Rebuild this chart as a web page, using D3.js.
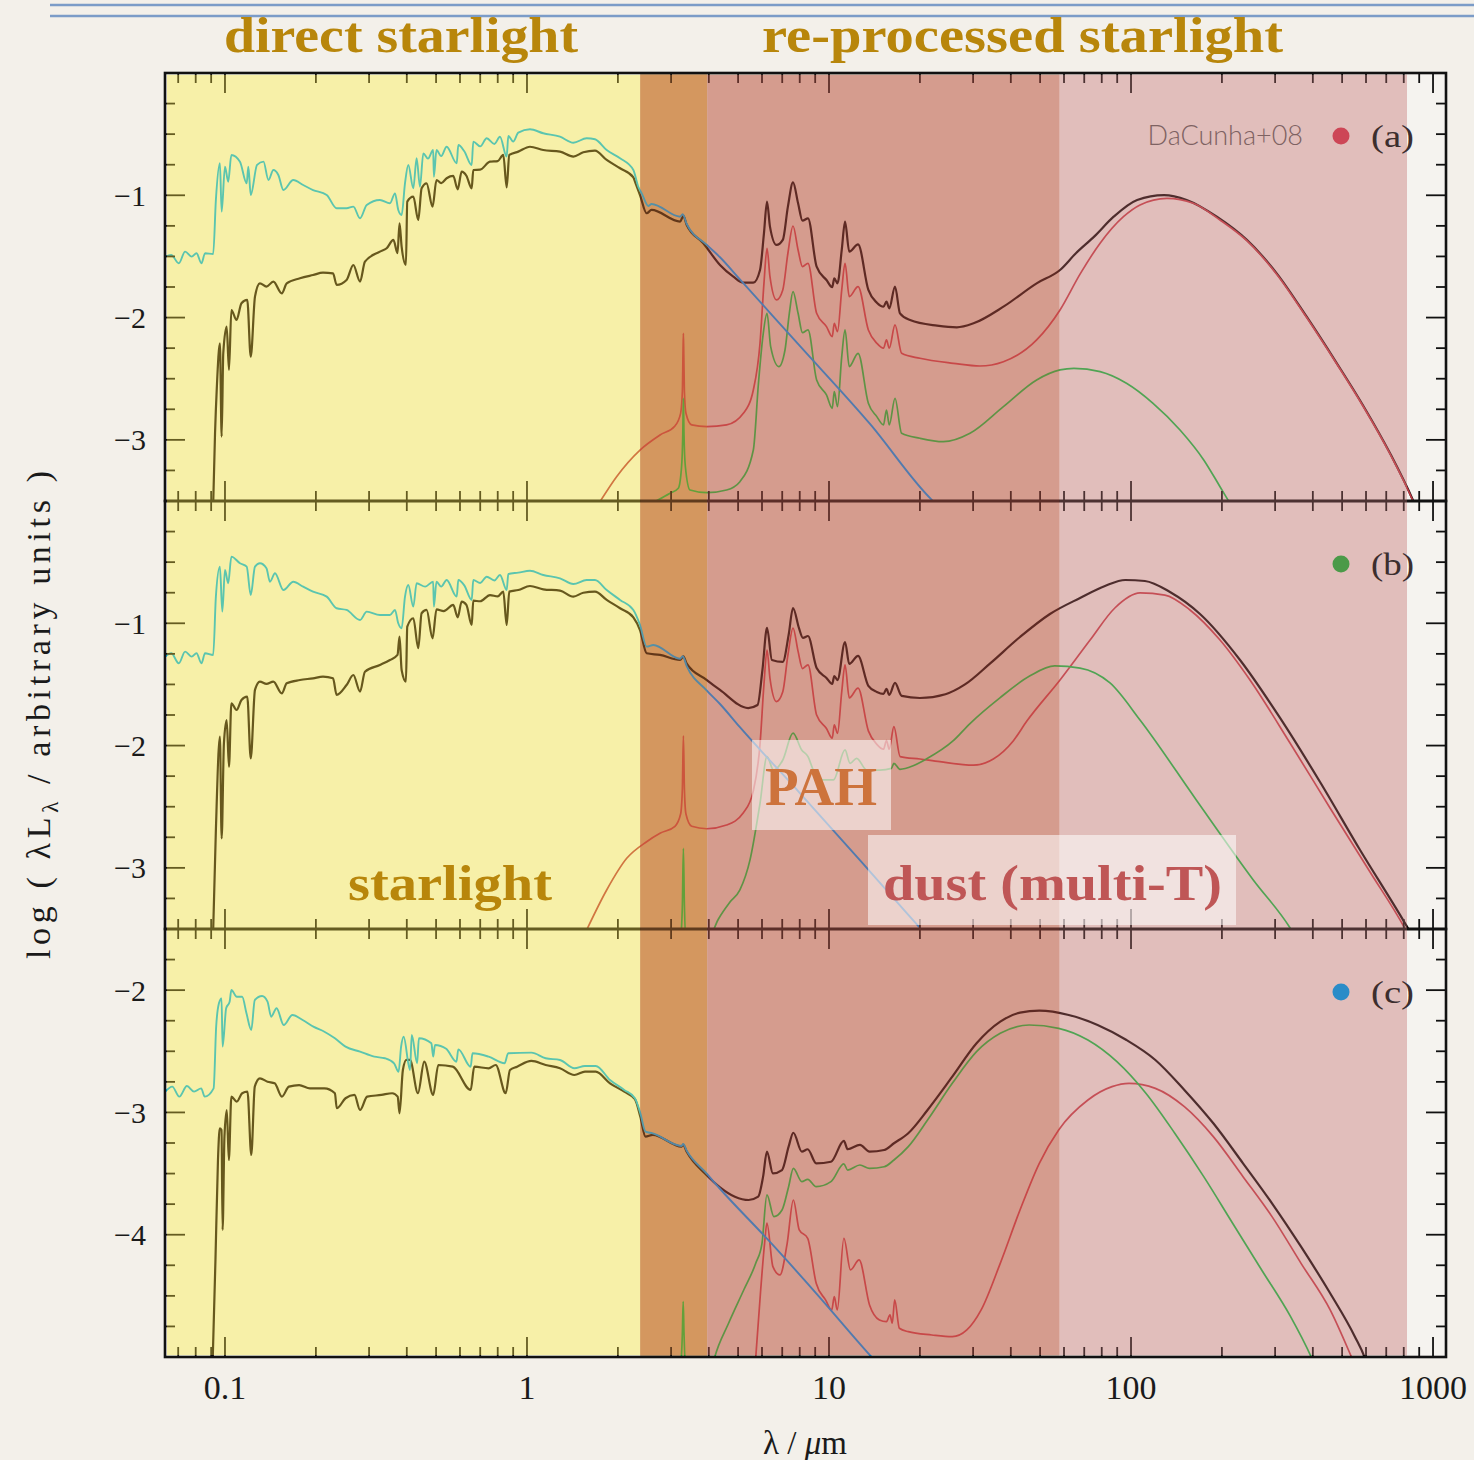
<!DOCTYPE html>
<html>
<head>
<meta charset="utf-8">
<script src="https://cdn.jsdelivr.net/npm/d3@7"></script>
<style>
  html, body { margin: 0; padding: 0; background: #f3f0ea; }
  svg { display: block; }
</style>
</head>
<body>
<svg id="chart" width="1474" height="1460"></svg>
<script>
// ---------------------------------------------------------------
// Spectral energy distributions, [wavelength (µm), log(λLλ)]
// stars*  : unattenuated stellar emission
// total*  : total emission (attenuated stars + dust)
// ism*    : dust emission of the ambient ISM
// clouds* : dust emission of stellar birth clouds
// ---------------------------------------------------------------

const xDomain = [0.0633, 1104];
const xTickValues = [0.1, 1, 10, 100, 1000];
const xTickLabels = ["0.1", "1", "10", "100", "1000"];

const yDomainA = [-3.5, 0];
const yDomainB = [-3.5, 0];
const yDomainC = [-5, -1.5];
const yTicksA = [-1, -2, -3];
const yTicksB = [-1, -2, -3];
const yTicksC = [-2, -3, -4];

const panelNames = ["(a)", "(b)", "(c)"];
const sourceLabel = "DaCunha+08";

// wavelength ranges of the shaded regions (µm)
const bandEdges = [0.0633, 2.37, 3.95, 58, 820];

const starsA = [[0.0633,-1.502],[0.0664,-1.488],[0.0703,-1.556],[0.0738,-1.461],[0.0776,-1.502],[0.0805,-1.474],[0.0836,-1.556],[0.0859,-1.474],[0.0914,-1.48],[0.0933,-1.038],[0.0962,-0.738],[0.0975,-1.134],[0.1000,-0.766],[0.1025,-0.889],[0.1050,-0.670],[0.1121,-0.725],[0.1180,-0.902],[0.1195,-0.766],[0.1217,-0.998],[0.1277,-0.752],[0.1341,-0.725],[0.1393,-0.875],[0.1446,-0.793],[0.1502,-0.834],[0.1561,-0.957],[0.1683,-0.875],[0.1815,-0.916],[0.1957,-0.957],[0.2172,-0.998],[0.2343,-1.106],[0.2527,-1.106],[0.2661,-1.093],[0.2800,-1.188],[0.2947,-1.079],[0.3259,-1.038],[0.3518,-1.065],[0.3655,-0.984],[0.3748,-1.120],[0.3845,-1.161],[0.3945,-0.902],[0.4046,-0.752],[0.4203,-0.943],[0.4311,-0.697],[0.4422,-0.930],[0.4536,-0.657],[0.4700,-0.700],[0.4891,-0.630],[0.4917,-0.848],[0.5016,-0.630],[0.5200,-0.680],[0.5419,-0.603],[0.5852,-0.738],[0.5923,-0.589],[0.6200,-0.640],[0.6560,-0.752],[0.6640,-0.561],[0.7000,-0.600],[0.7355,-0.534],[0.7800,-0.580],[0.8139,-0.521],[0.8566,-0.684],[0.8672,-0.515],[0.9000,-0.560],[0.9359,-0.488],[1.023,-0.460],[1.132,-0.493],[1.286,-0.521],[1.424,-0.570],[1.576,-0.534],[1.679,-0.542],[1.836,-0.630],[2.033,-0.697],[2.250,-0.793],[2.336,-0.930],[2.398,-0.984],[2.521,-1.087],[2.585,-1.071],[3.212,-1.175],[3.278,-1.155],[3.38,-1.235],[3.94,-1.406],[4.356,-1.507],[5.07,-1.688],[8.02,-2.234],[13.67,-2.870],[21.9,-3.491],[27.2,-3.688]];

const totalA = [[0.0914,-3.53],[0.0927,-2.946],[0.0940,-2.565],[0.0962,-2.210],[0.0975,-2.973],[0.0987,-2.292],[0.1013,-2.074],[0.1031,-2.428],[0.1050,-1.938],[0.1092,-2.020],[0.1134,-1.883],[0.1185,-1.856],[0.1217,-2.320],[0.1257,-1.829],[0.1305,-1.720],[0.1372,-1.747],[0.1446,-1.706],[0.1542,-1.802],[0.1601,-1.720],[0.1771,-1.679],[0.1957,-1.652],[0.2111,-1.633],[0.2279,-1.638],[0.2343,-1.733],[0.2527,-1.693],[0.2661,-1.570],[0.2800,-1.706],[0.2907,-1.543],[0.3259,-1.461],[0.3431,-1.433],[0.3612,-1.365],[0.3726,-1.474],[0.3784,-1.229],[0.3845,-1.420],[0.3973,-1.570],[0.4014,-1.052],[0.4203,-1.011],[0.4365,-1.202],[0.4478,-0.943],[0.4651,-0.902],[0.4868,-1.093],[0.5016,-0.875],[0.5200,-0.900],[0.5419,-0.861],[0.5699,-0.842],[0.5895,-0.951],[0.6077,-0.807],[0.6300,-0.840],[0.6560,-0.943],[0.6640,-0.793],[0.7000,-0.790],[0.7541,-0.725],[0.8000,-0.720],[0.8346,-0.670],[0.8566,-0.935],[0.8738,-0.670],[0.9359,-0.643],[1.023,-0.603],[1.132,-0.630],[1.286,-0.643],[1.424,-0.684],[1.536,-0.648],[1.679,-0.635],[1.836,-0.711],[2.033,-0.779],[2.250,-0.853],[2.289,-0.902],[2.367,-0.998],[2.490,-1.147],[2.585,-1.120],[3.212,-1.215],[3.295,-1.169],[3.38,-1.243],[3.836,-1.392],[4.356,-1.570],[4.823,-1.666],[5.205,-1.715],[5.616,-1.715],[5.910,-1.611],[6.09,-1.311],[6.234,-1.052],[6.376,-1.256],[6.70,-1.406],[7.03,-1.365],[7.31,-1.093],[7.60,-0.894],[7.90,-1.065],[8.17,-1.208],[8.52,-1.188],[9.10,-1.584],[9.81,-1.693],[10.25,-1.752],[10.41,-1.679],[10.67,-1.720],[11.02,-1.447],[11.30,-1.216],[11.67,-1.461],[12.48,-1.401],[13.5,-1.774],[14.4,-1.878],[15.15,-1.911],[15.5,-1.870],[15.83,-1.924],[16.54,-1.747],[17.18,-1.965],[18.55,-2.020],[22.8,-2.066],[26.5,-2.080],[30.1,-2.047],[37.8,-1.911],[48.7,-1.720],[58.2,-1.611],[65.7,-1.474],[75.5,-1.338],[87.6,-1.175],[104.8,-1.038],[128.6,-0.998],[152.9,-1.038],[192.3,-1.175],[241.8,-1.365],[303.6,-1.638],[381.6,-1.993],[480.3,-2.374],[590,-2.729],[720.6,-3.110],[862,-3.505],[932,-3.71]];

const ismA = [[1.745,-3.505],[1.98,-3.301],[2.367,-3.083],[2.757,-2.960],[3.09,-2.886],[3.226,-2.783],[3.27,-2.60],[3.285,-2.30],[3.295,-2.129],[3.305,-2.30],[3.32,-2.60],[3.36,-2.783],[3.51,-2.878],[3.94,-2.892],[4.58,-2.878],[5.205,-2.783],[5.616,-2.592],[5.910,-2.210],[6.09,-1.720],[6.234,-1.433],[6.376,-1.666],[6.70,-1.856],[7.03,-1.774],[7.31,-1.474],[7.60,-1.251],[7.90,-1.447],[8.17,-1.584],[8.52,-1.556],[9.10,-1.965],[9.81,-2.074],[10.25,-2.156],[10.41,-2.047],[10.67,-2.115],[11.02,-1.774],[11.30,-1.556],[11.67,-1.829],[12.48,-1.747],[13.5,-2.101],[14.4,-2.210],[15.15,-2.251],[15.5,-2.183],[15.83,-2.251],[16.54,-2.060],[17.4,-2.292],[20.0,-2.333],[25.8,-2.374],[31.6,-2.396],[37.8,-2.361],[48.7,-2.183],[58.2,-1.938],[67.8,-1.645],[79.0,-1.392],[94.4,-1.175],[107.1,-1.079],[131.5,-1.025],[160.8,-1.065],[197.1,-1.202],[241.8,-1.371],[303.6,-1.645],[381.6,-2.000],[480.3,-2.380],[590,-2.735],[720.6,-3.115],[862,-3.510],[932,-3.72]];

const cloudsA = [[2.655,-3.505],[2.976,-3.437],[3.17,-3.396],[3.25,-3.219],[3.28,-2.95],[3.295,-2.660],[3.31,-2.95],[3.345,-3.219],[3.466,-3.410],[3.94,-3.432],[4.58,-3.410],[5.07,-3.342],[5.616,-3.083],[5.84,-2.537],[6.04,-2.156],[6.234,-1.965],[6.41,-2.238],[6.82,-2.401],[7.15,-2.265],[7.39,-1.965],[7.60,-1.788],[7.90,-1.965],[8.17,-2.123],[8.52,-2.101],[9.10,-2.510],[9.81,-2.633],[10.25,-2.742],[10.41,-2.606],[10.67,-2.728],[11.02,-2.320],[11.30,-2.101],[11.67,-2.401],[12.48,-2.292],[13.5,-2.701],[14.4,-2.810],[15.15,-2.878],[15.5,-2.756],[15.83,-2.878],[16.54,-2.660],[17.4,-2.946],[20.0,-2.987],[23.9,-3.015],[29.3,-2.946],[37.8,-2.728],[48.7,-2.510],[58.2,-2.428],[64.7,-2.415],[79.0,-2.442],[96.6,-2.537],[118.3,-2.701],[145.3,-2.919],[174.1,-3.164],[197.1,-3.383],[212.7,-3.519],[229.6,-3.655]];

const starsB = [[0.0633,-1.273],[0.0664,-1.245],[0.0703,-1.327],[0.0738,-1.232],[0.0776,-1.273],[0.0805,-1.245],[0.0836,-1.327],[0.0859,-1.245],[0.0914,-1.259],[0.0933,-0.782],[0.0962,-0.537],[0.0980,-0.905],[0.1000,-0.564],[0.1025,-0.673],[0.1050,-0.455],[0.1121,-0.509],[0.1180,-0.537],[0.1217,-0.769],[0.1257,-0.537],[0.1305,-0.509],[0.1372,-0.550],[0.1409,-0.660],[0.1464,-0.591],[0.1561,-0.728],[0.1683,-0.660],[0.1815,-0.701],[0.1957,-0.742],[0.2172,-0.782],[0.2343,-0.877],[0.2527,-0.891],[0.2800,-0.973],[0.2947,-0.905],[0.3259,-0.932],[0.3518,-0.932],[0.3655,-0.891],[0.3748,-1.000],[0.3845,-1.041],[0.3945,-0.782],[0.4046,-0.687],[0.4203,-0.864],[0.4311,-0.673],[0.4600,-0.700],[0.4891,-0.660],[0.4917,-0.864],[0.5016,-0.660],[0.5200,-0.700],[0.5419,-0.646],[0.5852,-0.782],[0.5923,-0.646],[0.6200,-0.690],[0.6560,-0.809],[0.6640,-0.646],[0.7000,-0.670],[0.7355,-0.619],[0.7800,-0.650],[0.8139,-0.605],[0.8566,-0.728],[0.8672,-0.597],[0.9359,-0.586],[1.023,-0.570],[1.132,-0.605],[1.286,-0.632],[1.424,-0.679],[1.576,-0.646],[1.679,-0.646],[1.836,-0.728],[2.033,-0.809],[2.250,-0.891],[2.367,-1.014],[2.490,-1.191],[2.62,-1.177],[3.212,-1.29],[3.278,-1.27],[3.38,-1.35],[3.94,-1.55],[4.356,-1.66],[5.07,-1.85],[8.02,-2.39],[13.67,-3.03],[20.0,-3.49],[27.2,-3.85]];

const totalB = [[0.0914,-3.508],[0.0933,-2.690],[0.0962,-1.927],[0.0975,-2.758],[0.0992,-1.981],[0.1013,-1.791],[0.1031,-2.173],[0.1050,-1.654],[0.1092,-1.709],[0.1134,-1.627],[0.1185,-1.600],[0.1217,-2.104],[0.1257,-1.545],[0.1305,-1.477],[0.1372,-1.496],[0.1446,-1.477],[0.1542,-1.573],[0.1601,-1.491],[0.1771,-1.464],[0.1957,-1.450],[0.2111,-1.436],[0.2279,-1.450],[0.2343,-1.586],[0.2527,-1.505],[0.2661,-1.423],[0.2800,-1.559],[0.2907,-1.396],[0.3259,-1.341],[0.3518,-1.300],[0.3726,-1.259],[0.3784,-1.109],[0.3845,-1.382],[0.3973,-1.477],[0.4014,-1.028],[0.4203,-0.959],[0.4365,-1.204],[0.4478,-0.918],[0.4651,-0.891],[0.4868,-1.123],[0.5016,-0.886],[0.5300,-0.900],[0.5699,-0.850],[0.5895,-0.951],[0.6077,-0.823],[0.6300,-0.850],[0.6560,-1.014],[0.6640,-0.815],[0.7000,-0.820],[0.7541,-0.769],[0.8000,-0.780],[0.8346,-0.741],[0.8566,-1.014],[0.8738,-0.741],[0.9359,-0.728],[1.023,-0.695],[1.132,-0.722],[1.286,-0.733],[1.424,-0.782],[1.536,-0.750],[1.679,-0.741],[1.836,-0.809],[2.033,-0.877],[2.250,-0.951],[2.367,-1.055],[2.490,-1.245],[2.757,-1.259],[3.212,-1.30],[3.295,-1.27],[3.38,-1.33],[3.94,-1.464],[4.356,-1.545],[5.4,-1.693],[5.8,-1.668],[6.02,-1.382],[6.234,-1.038],[6.47,-1.300],[7.03,-1.316],[7.35,-1.096],[7.60,-0.875],[7.95,-1.038],[8.2,-1.120],[8.52,-1.104],[9.1,-1.366],[9.81,-1.447],[10.25,-1.496],[10.41,-1.431],[10.67,-1.464],[11.3,-1.153],[11.67,-1.333],[12.48,-1.267],[13.5,-1.512],[14.4,-1.562],[15.15,-1.578],[15.5,-1.537],[15.83,-1.586],[16.54,-1.488],[17.4,-1.594],[20.0,-1.611],[24.3,-1.580],[28.2,-1.500],[34.1,-1.330],[42.9,-1.112],[53.9,-0.924],[67.8,-0.793],[82.0,-0.695],[95.7,-0.646],[111.2,-0.654],[134.6,-0.744],[169.2,-0.924],[229.6,-1.300],[311.5,-1.774],[422.6,-2.298],[573.3,-2.854],[777.7,-3.385],[840,-3.524]];

const ismB = [[1.576,-3.508],[1.836,-3.181],[2.139,-2.922],[2.490,-2.786],[2.757,-2.717],[3.09,-2.66],[3.226,-2.56],[3.27,-2.35],[3.295,-1.92],[3.32,-2.35],[3.36,-2.56],[3.51,-2.66],[3.94,-2.68],[4.58,-2.65],[5.205,-2.55],[5.616,-2.37],[5.91,-1.99],[6.09,-1.50],[6.234,-1.22],[6.376,-1.45],[6.70,-1.64],[7.03,-1.56],[7.31,-1.26],[7.60,-1.04],[7.90,-1.23],[8.17,-1.37],[8.52,-1.34],[9.10,-1.75],[9.81,-1.86],[10.25,-1.94],[10.41,-1.83],[10.67,-1.90],[11.02,-1.56],[11.30,-1.34],[11.67,-1.61],[12.48,-1.53],[13.5,-1.88],[14.4,-1.99],[15.15,-2.03],[15.5,-1.96],[15.83,-2.03],[16.4,-1.845],[17.2,-2.09],[20.0,-2.11],[23.3,-2.132],[30.1,-2.160],[35.0,-2.110],[40.8,-1.960],[45.2,-1.800],[58.2,-1.464],[73.2,-1.137],[88.4,-0.875],[107.1,-0.752],[129.5,-0.769],[156.8,-0.891],[197.1,-1.137],[247.7,-1.464],[336.1,-1.979],[456,-2.510],[618.7,-3.034],[805,-3.491],[870,-3.65]];

const cloudsB = [[3.22,-3.62],[3.27,-3.30],[3.295,-2.84],[3.32,-3.30],[3.37,-3.62],[3.95,-3.60],[4.3,-3.42],[4.7,-3.28],[5.07,-3.18],[5.476,-2.935],[5.91,-2.472],[6.234,-2.091],[6.55,-2.200],[7.03,-2.118],[7.60,-1.899],[8.12,-2.036],[8.52,-2.091],[8.87,-2.200],[9.55,-2.281],[10.34,-2.281],[11.30,-2.036],[11.74,-2.145],[12.35,-2.104],[13.33,-2.200],[14.75,-2.200],[16.1,-2.186],[16.4,-2.145],[17.18,-2.194],[19.0,-2.165],[21.0,-2.110],[25.8,-1.960],[29.3,-1.820],[36.8,-1.610],[46.3,-1.430],[55.9,-1.349],[67.8,-1.366],[85.2,-1.488],[107.1,-1.791],[164.5,-2.445],[254,-3.099],[336,-3.49],[363,-3.63]];

const starsC = [[0.0634,-2.830],[0.0669,-2.789],[0.0706,-2.871],[0.0748,-2.784],[0.0790,-2.830],[0.0834,-2.803],[0.0857,-2.871],[0.0917,-2.803],[0.0935,-2.299],[0.0955,-2.108],[0.0974,-2.067],[0.0982,-2.462],[0.1009,-2.148],[0.1036,-2.094],[0.1050,-1.999],[0.1094,-2.054],[0.1140,-2.054],[0.1178,-2.189],[0.1222,-2.326],[0.1255,-2.081],[0.1327,-2.048],[0.1383,-2.094],[0.1422,-2.217],[0.1482,-2.148],[0.1565,-2.285],[0.1672,-2.203],[0.1808,-2.244],[0.1962,-2.299],[0.2134,-2.340],[0.2312,-2.394],[0.2507,-2.462],[0.2800,-2.503],[0.3121,-2.544],[0.3386,-2.557],[0.3630,-2.598],[0.3757,-2.667],[0.3830,-2.462],[0.3904,-2.381],[0.4099,-2.653],[0.4154,-2.367],[0.4328,-2.598],[0.4386,-2.394],[0.4824,-2.435],[0.4891,-2.544],[0.4959,-2.448],[0.5400,-2.480],[0.5841,-2.585],[0.5922,-2.484],[0.6509,-2.626],[0.6600,-2.516],[0.7463,-2.544],[0.8431,-2.598],[0.8665,-2.516],[1.034,-2.511],[1.153,-2.557],[1.286,-2.571],[1.435,-2.639],[1.556,-2.620],[1.689,-2.620],[1.883,-2.735],[2.099,-2.816],[2.277,-2.884],[2.373,-3.007],[2.468,-3.157],[2.608,-3.171],[3.25,-3.274],[3.29,-3.258],[3.38,-3.313],[3.93,-3.498],[4.34,-3.620],[6.29,-4.043],[9.07,-4.479],[13.9,-5.005],[17.2,-5.25]];

const totalC = [[0.0911,-5.010],[0.0930,-4.206],[0.0948,-3.389],[0.0961,-3.130],[0.0974,-3.143],[0.0982,-3.961],[0.0996,-3.198],[0.1014,-2.980],[0.1030,-3.389],[0.1050,-2.871],[0.1094,-2.912],[0.1140,-2.843],[0.1187,-2.830],[0.1222,-3.348],[0.1255,-2.789],[0.1305,-2.721],[0.1383,-2.749],[0.1461,-2.762],[0.1543,-2.871],[0.1628,-2.789],[0.1760,-2.776],[0.1912,-2.803],[0.2134,-2.803],[0.2312,-2.843],[0.2345,-2.966],[0.2507,-2.884],[0.2684,-2.857],[0.2800,-2.980],[0.2957,-2.871],[0.3295,-2.857],[0.3580,-2.843],[0.3731,-2.871],[0.3784,-3.007],[0.3882,-2.653],[0.3988,-2.571],[0.4099,-2.571],[0.4355,-2.843],[0.4568,-2.585],[0.4891,-2.857],[0.5087,-2.612],[0.5681,-2.626],[0.6509,-2.816],[0.6690,-2.626],[0.7463,-2.639],[0.7880,-2.612],[0.8500,-2.843],[0.8785,-2.653],[0.9273,-2.626],[1.034,-2.579],[1.153,-2.612],[1.286,-2.639],[1.435,-2.694],[1.556,-2.667],[1.689,-2.667],[1.883,-2.762],[2.099,-2.830],[2.277,-2.892],[2.373,-3.035],[2.468,-3.198],[2.608,-3.184],[3.25,-3.280],[3.29,-3.265],[3.38,-3.322],[3.93,-3.511],[4.356,-3.612],[4.88,-3.689],[5.42,-3.716],[5.83,-3.689],[6.05,-3.525],[6.23,-3.321],[6.52,-3.498],[6.99,-3.471],[7.35,-3.280],[7.62,-3.166],[8.13,-3.321],[8.50,-3.301],[9.07,-3.416],[10.15,-3.403],[11.20,-3.233],[11.53,-3.301],[12.66,-3.266],[13.62,-3.321],[15.23,-3.307],[16.41,-3.252],[18.3,-3.170],[21.2,-2.980],[25.6,-2.708],[30.8,-2.435],[36.9,-2.258],[42.9,-2.184],[49.7,-2.168],[62.2,-2.203],[77.5,-2.285],[96.6,-2.408],[120.4,-2.571],[150.2,-2.816],[187.3,-3.089],[234.9,-3.416],[293,-3.743],[365.6,-4.098],[456.5,-4.479],[551.2,-4.834],[594,-5.005],[620,-5.15]];

const ismC = [[5.72,-5.005],[5.94,-4.452],[6.12,-4.070],[6.23,-3.906],[6.52,-4.261],[6.88,-4.329],[7.27,-4.070],[7.62,-3.716],[7.97,-3.961],[8.50,-4.029],[9.07,-4.397],[9.74,-4.533],[10.21,-4.615],[10.41,-4.507],[10.65,-4.615],[11.20,-4.029],[11.78,-4.288],[12.58,-4.206],[13.62,-4.574],[14.69,-4.697],[15.5,-4.711],[15.92,-4.656],[16.2,-4.724],[16.5,-4.533],[17.1,-4.765],[18.3,-4.793],[21.9,-4.820],[25.6,-4.834],[28.6,-4.779],[31.9,-4.615],[36.9,-4.234],[42.9,-3.798],[49.7,-3.416],[57.6,-3.143],[72.0,-2.898],[86.5,-2.789],[98.5,-2.762],[120.4,-2.803],[150.2,-2.953],[187.3,-3.198],[234.9,-3.525],[293,-3.852],[365.6,-4.234],[456.5,-4.615],[538,-5.005],[570,-5.15]];

const cloudsC = [[3.20,-5.20],[3.27,-4.80],[3.29,-4.547],[3.31,-4.80],[3.38,-5.20],[4.00,-5.20],[4.18,-5.005],[4.65,-4.724],[5.22,-4.452],[5.72,-4.234],[6.00,-4.070],[6.23,-3.675],[6.57,-3.852],[6.99,-3.798],[7.35,-3.607],[7.62,-3.457],[8.13,-3.566],[8.50,-3.547],[9.07,-3.607],[10.15,-3.566],[11.20,-3.421],[11.53,-3.471],[12.66,-3.430],[13.62,-3.457],[15.23,-3.444],[16.41,-3.389],[18.3,-3.280],[21.2,-3.062],[25.6,-2.762],[30.8,-2.503],[36.9,-2.353],[46.0,-2.285],[57.6,-2.312],[72.0,-2.408],[89.8,-2.585],[112,-2.843],[139.6,-3.170],[174.1,-3.525],[217,-3.906],[270.8,-4.288],[337.6,-4.670],[396,-5.005],[420,-5.15]];

// ---------------------------------------------------------------
// layout
// ---------------------------------------------------------------
const W = 1474, H = 1460;
const plotL = 165, plotR = 1446;
const panelH = 428;
const panelTops = [73, 501, 929];
const plotTop = panelTops[0], plotBottom = panelTops[2] + panelH;

const panels = [
  { name: panelNames[0], domain: yDomainA, ticks: yTicksA, stars: starsA, total: totalA, ism: ismA, clouds: cloudsA, dot: "#cd4656" },
  { name: panelNames[1], domain: yDomainB, ticks: yTicksB, stars: starsB, total: totalB, ism: ismB, clouds: cloudsB, dot: "#4b9a48" },
  { name: panelNames[2], domain: yDomainC, ticks: yTicksC, stars: starsC, total: totalC, ism: ismC, clouds: cloudsC, dot: "#2a8cc8" }
];

const x = d3.scaleLog().domain(xDomain).range([plotL, plotR]);

const svg = d3.select("#chart");
const defs = svg.append("defs");

// paper
svg.append("rect").attr("width", W).attr("height", H).attr("fill", "#f3f0ea");

// double rule along the top
[5, 16].forEach(yy => {
  svg.append("line").attr("x1", 50).attr("x2", W).attr("y1", yy).attr("y2", yy)
    .attr("stroke", "#7b9cc8").attr("stroke-width", 2.5);
});

// plot background
svg.append("rect").attr("x", plotL).attr("y", plotTop)
  .attr("width", plotR - plotL).attr("height", plotBottom - plotTop).attr("fill", "#f5f3ef");

// shaded regions: an opaque base below the curves and a translucent tint above them
const bands = [
  { lo: bandEdges[0], hi: bandEdges[1], base: "rgb(252,255,234)", tint: "rgb(240,215,60)", a: 0.38 },
  { lo: bandEdges[1], hi: bandEdges[2], base: "rgb(204,165,123)", tint: "rgb(225,130,50)", a: 0.38 },
  { lo: bandEdges[2], hi: bandEdges[3], base: "rgb(211,194,181)", tint: "rgb(215,95,80)",  a: 0.38 },
  { lo: bandEdges[3], hi: bandEdges[4], base: "rgb(229,216,213)", tint: "rgb(215,130,130)", a: 0.30 }
];
const bandX0 = b => Math.max(x(b.lo), plotL + 2);

svg.append("g").selectAll("rect").data(bands).join("rect")
  .attr("x", bandX0).attr("y", plotTop)
  .attr("width", b => x(b.hi) - bandX0(b)).attr("height", plotBottom - plotTop)
  .attr("fill", b => b.base);

// stellar line colour: turquoise in the optical, blue in the infrared
const grad = defs.append("linearGradient").attr("id", "starGrad")
  .attr("gradientUnits", "userSpaceOnUse")
  .attr("x1", x(2.25)).attr("x2", x(2.8)).attr("y1", 0).attr("y2", 0);
grad.append("stop").attr("offset", 0).attr("stop-color", "rgb(0,186,246)");
grad.append("stop").attr("offset", 1).attr("stop-color", "rgb(0,140,232)");

// ---------------------------------------------------------------
// curves, one panel at a time
// ---------------------------------------------------------------
panels.forEach((p, i) => {
  const top = panelTops[i];
  const y = d3.scaleLinear().domain(p.domain).range([top + panelH, top]);
  p.y = y;

  defs.append("clipPath").attr("id", "clip" + i)
    .append("rect").attr("x", plotL).attr("y", top).attr("width", plotR - plotL).attr("height", panelH);

  const line = d3.line().x(d => x(d[0])).y(d => y(d[1])).curve(d3.curveMonotoneX);
  const g = svg.append("g").attr("clip-path", `url(#clip${i})`)
    .attr("fill", "none").attr("stroke-linejoin", "round").attr("stroke-linecap", "round");

  g.append("path").datum(p.total).attr("d", line).attr("stroke", "#140a0a").attr("stroke-width", 2.2);
  g.append("path").datum(p.ism).attr("d", line).attr("stroke", "rgb(190,58,68)").attr("stroke-width", 1.7);
  g.append("path").datum(p.clouds).attr("d", line).attr("stroke", "rgb(22,180,64)").attr("stroke-width", 1.7);
  g.append("path").datum(p.stars).attr("d", line).attr("stroke", "url(#starGrad)").attr("stroke-width", 1.9);
});

// ---------------------------------------------------------------
// frames and ticks
// ---------------------------------------------------------------
const axisG = svg.append("g").attr("stroke", "#111");

const minorX = [];
for (let e = -2; e <= 3; e++) {
  for (let m = 1; m < 10; m++) {
    const v = m * Math.pow(10, e);
    if (v > xDomain[0] && v < xDomain[1]) minorX.push({ v, major: m === 1 });
  }
}

panels.forEach((p, i) => {
  const top = panelTops[i], bot = top + panelH;
  const y = p.y;

  // x ticks at top and bottom, pointing inwards
  minorX.forEach(t => {
    const len = t.major ? 20 : 10;
    const xx = x(t.v);
    axisG.append("line").attr("x1", xx).attr("x2", xx).attr("y1", bot).attr("y2", bot - len).attr("stroke-width", 1.8);
    axisG.append("line").attr("x1", xx).attr("x2", xx).attr("y1", top).attr("y2", top + len).attr("stroke-width", 1.8);
  });

  // y ticks every quarter unit, on both sides
  const [lo, hi] = p.domain;
  for (let v = Math.ceil(lo); v <= hi + 1e-9; v += 0.25) {
    if (v <= lo + 1e-9 || v >= hi - 1e-9) continue;
    const major = Math.abs(v - Math.round(v)) < 1e-9;
    const len = major ? 20 : 10;
    const yy = y(v);
    axisG.append("line").attr("x1", plotL).attr("x2", plotL + len).attr("y1", yy).attr("y2", yy).attr("stroke-width", 1.8);
    axisG.append("line").attr("x1", plotR).attr("x2", plotR - len).attr("y1", yy).attr("y2", yy).attr("stroke-width", 1.8);
  }
  for (let v = Math.ceil(lo) - 0.25; v > lo + 1e-9; v -= 0.25) {
    const yy = y(v);
    axisG.append("line").attr("x1", plotL).attr("x2", plotL + 10).attr("y1", yy).attr("y2", yy).attr("stroke-width", 1.8);
    axisG.append("line").attr("x1", plotR).attr("x2", plotR - 10).attr("y1", yy).attr("y2", yy).attr("stroke-width", 1.8);
  }

  // panel frame
  axisG.append("rect").attr("x", plotL).attr("y", top).attr("width", plotR - plotL).attr("height", panelH)
    .attr("fill", "none").attr("stroke-width", 2.6);
});

// translucent tint of the shaded regions over curves and ticks
svg.append("g").selectAll("rect").data(bands).join("rect")
  .attr("x", bandX0).attr("y", plotTop + 2)
  .attr("width", b => x(b.hi) - bandX0(b)).attr("height", plotBottom - plotTop - 4)
  .attr("fill", b => b.tint).attr("fill-opacity", b => b.a);

// ---------------------------------------------------------------
// annotations inside the plot
// ---------------------------------------------------------------
const serif = "'Liberation Serif', 'DejaVu Serif', serif";

svg.append("rect").attr("x", 752).attr("y", 740).attr("width", 139).attr("height", 90)
  .attr("fill", "#ffffff").attr("fill-opacity", 0.55);
svg.append("text").attr("x", 765).attr("y", 805).attr("font-family", serif).attr("font-weight", "bold")
  .attr("font-size", 54).attr("fill", "#cd733c").attr("textLength", 112).attr("lengthAdjust", "spacingAndGlyphs")
  .text("PAH");

svg.append("rect").attr("x", 868).attr("y", 835).attr("width", 368).attr("height", 90)
  .attr("fill", "#ffffff").attr("fill-opacity", 0.55);
svg.append("text").attr("x", 883).attr("y", 900).attr("font-family", serif).attr("font-weight", "bold")
  .attr("font-size", 50).attr("fill", "#bf5656").attr("textLength", 339).attr("lengthAdjust", "spacingAndGlyphs")
  .text("dust (multi-T)");

svg.append("text").attr("x", 348).attr("y", 900).attr("font-family", serif).attr("font-weight", "bold")
  .attr("font-size", 50).attr("fill", "#b8860b").attr("textLength", 204).attr("lengthAdjust", "spacingAndGlyphs")
  .text("starlight");

// panel legends
panels.forEach((p, i) => {
  const yy = panelTops[i] + 63;
  svg.append("circle").attr("cx", 1341).attr("cy", yy).attr("r", 8.5).attr("fill", p.dot);
  svg.append("text").attr("x", 1371).attr("y", yy).attr("dy", "0.35em")
    .attr("font-family", serif).attr("font-size", 31).attr("fill", "#3c2e2e")
    .attr("textLength", 43).attr("lengthAdjust", "spacingAndGlyphs").text(p.name);
});
svg.append("text").attr("x", 1303).attr("y", panelTops[0] + 63).attr("dy", "0.35em").attr("text-anchor", "end")
  .attr("font-family", "Lato, 'Open Sans', sans-serif").attr("font-weight", 300)
  .attr("font-size", 27).attr("fill", "#7e6262").text(sourceLabel);

// ---------------------------------------------------------------
// titles and axis labels
// ---------------------------------------------------------------
svg.append("text").attr("x", 224).attr("y", 52).attr("font-family", serif).attr("font-weight", "bold")
  .attr("font-size", 50).attr("fill", "#b8860b").attr("textLength", 354).attr("lengthAdjust", "spacingAndGlyphs")
  .text("direct starlight");
svg.append("text").attr("x", 762).attr("y", 52).attr("font-family", serif).attr("font-weight", "bold")
  .attr("font-size", 50).attr("fill", "#b8860b").attr("textLength", 521).attr("lengthAdjust", "spacingAndGlyphs")
  .text("re-processed starlight");

// y tick labels
panels.forEach(p => {
  svg.append("g").selectAll("text").data(p.ticks).join("text")
    .attr("x", 146).attr("y", d => p.y(d)).attr("dy", "0.35em").attr("text-anchor", "end")
    .attr("font-family", serif).attr("font-size", 30).attr("fill", "#1a1a1a")
    .text(d => "\u2212" + Math.abs(d));
});

// x tick labels
svg.append("g").selectAll("text").data(xTickValues).join("text")
  .attr("x", d => x(d)).attr("y", 1387).attr("dy", "0.35em").attr("text-anchor", "middle")
  .attr("font-family", serif).attr("font-size", 34).attr("fill", "#1a1a1a")
  .text((d, i) => xTickLabels[i]);

// x axis title
const xt = svg.append("text").attr("x", 805).attr("y", 1442).attr("dy", "0.35em").attr("text-anchor", "middle")
  .attr("font-family", serif).attr("font-size", 33).attr("fill", "#1a1a1a");
xt.append("tspan").text("\u03bb / ");
xt.append("tspan").attr("font-style", "italic").text("\u03bc");
xt.append("tspan").text("m");

// y axis title
const yt = svg.append("text").attr("transform", "translate(38,715) rotate(-90)")
  .attr("text-anchor", "middle").attr("dy", "0.35em")
  .attr("font-family", serif).attr("font-size", 34).attr("fill", "#1a1a1a")
  .attr("textLength", 488).attr("lengthAdjust", "spacing");
yt.append("tspan").text("log ( \u03bbL");
yt.append("tspan").attr("font-size", 23).attr("dy", 8).text("\u03bb");
yt.append("tspan").attr("dy", -8).text(" / arbitrary units )");
</script>
</body>
</html>
